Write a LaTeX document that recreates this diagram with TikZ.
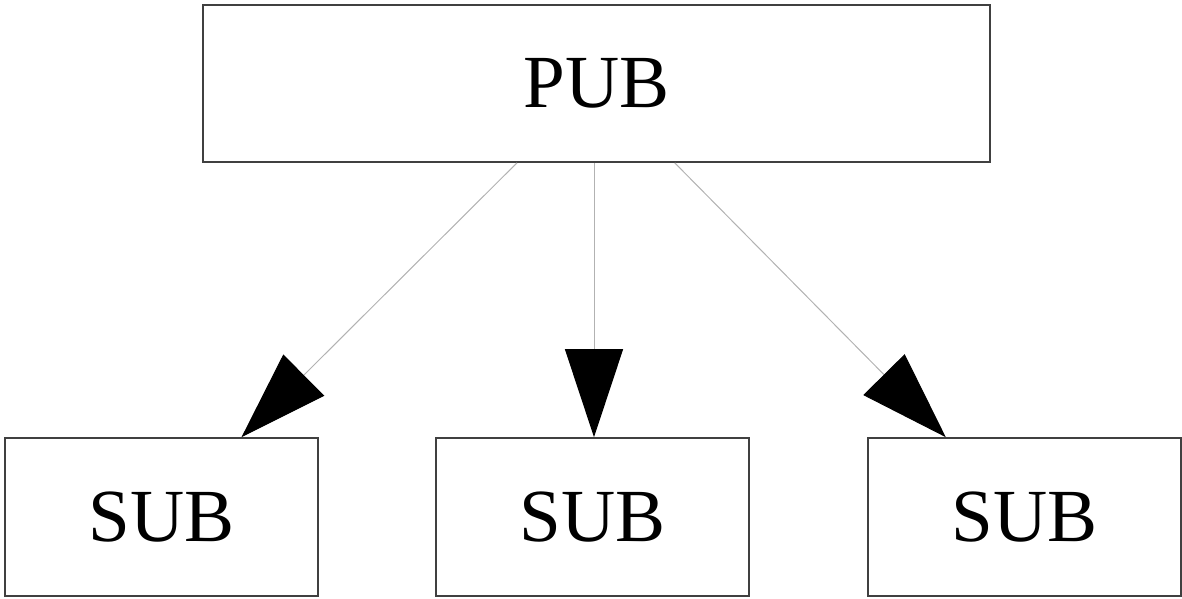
\documentclass[tikz,border=0pt]{standalone}
\usepackage{fontspec}
\setmainfont{Liberation Serif}
\usetikzlibrary{arrows.meta}
\begin{document}
\begin{tikzpicture}[x=1pt,y=-1pt,
  box/.style={draw=black!75,line width=1.6pt,inner sep=0pt,font=\fontsize{75}{80}\selectfont},
  pubbox/.style={box,minimum width=787pt,minimum height=157pt},
  subbox/.style={box,minimum width=313pt,minimum height=158pt},
  link/.style={draw=black!30,line width=1pt,-{Triangle[length=88pt,width=58pt,color=black]}}]
\useasboundingbox (0,0) rectangle (1182,598);
\node[pubbox] (pub) at (596.5,83.5) {PUB};
\node[subbox] (s1) at (161.5,517) {SUB};
\node[subbox] (s2) at (592.5,517) {SUB};
\node[subbox] (s3) at (1024.5,517) {SUB};
\coordinate (m1) at ([xshift=1.5pt]pub.south -| s2);
\coordinate (m2) at ([xshift=1.5pt]s2.north);
\draw[link] (pub) -- (s1);
\draw[link] (m1) -- (m2);
\draw[link] (pub) -- (s3);
\end{tikzpicture}
\end{document}
